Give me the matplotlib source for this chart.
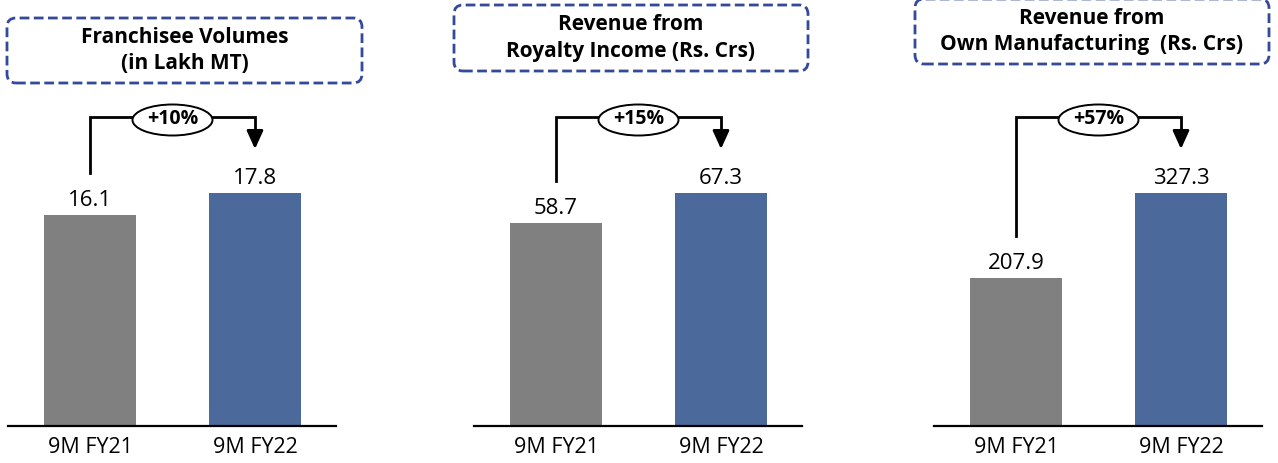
import matplotlib.pyplot as plt
from matplotlib.patches import Ellipse, FancyBboxPatch
from matplotlib.transforms import Affine2D

plt.rcParams["font.family"] = ["Open Sans", "DejaVu Sans"]

periods = ["9M FY21", "9M FY22"]
titles = [
    "Franchisee Volumes\n(in Lakh MT)",
    "Revenue from\nRoyalty Income (Rs. Crs)",
    "Revenue from\nOwn Manufacturing  (Rs. Crs)",
]
volumes = [16.1, 17.8]
royalty = [58.7, 67.3]
manufacturing = [207.9, 327.3]
growth = ["+10%", "+15%", "+57%"]

bar_colors = ["#808080", "#4B6A9B"]
box_color = "#34499A"

W, H = 1278, 463
fig = plt.figure(figsize=(W / 100, H / 100), dpi=100)
# pixel coordinates, origin bottom-left
px = Affine2D().scale(1 / W, 1 / H) + fig.transFigure

# pixel layout of each panel: axes left edge, title box (x0, y0 top, x1, y1 bottom)
axes_left = [8, 474, 934]
boxes = [(7, 18, 362, 83), (454, 5, 808, 71), (915, -1, 1269, 64)]
base_y = 426      # baseline, px from top
top_px = 233      # height of the tallest bar in px
ax_h = 300        # axes height in px
ax_w = 328

for i, vals in enumerate([volumes, royalty, manufacturing]):
    ax = fig.add_axes([axes_left[i] / W, (H - base_y) / H, ax_w / W, ax_h / H])
    vmax = max(vals)
    unit = vmax / top_px  # data units per pixel
    ax.bar([0, 1], vals, width=0.557, color=bar_colors)
    ax.set_xlim(-0.497, 1.491)
    ax.set_ylim(0, ax_h * unit)
    for s in ["top", "right", "left"]:
        ax.spines[s].set_visible(False)
    ax.spines["bottom"].set_linewidth(1.6)
    ax.set_yticks([])
    ax.set_xticks([0, 1])
    ax.set_xticklabels(periods, fontsize=15.5)
    ax.tick_params(axis="x", length=0, pad=8)

    for x, v in zip([0, 1], vals):
        ax.annotate(f"{v:.1f}", (x, v), xytext=(0, 3), textcoords="offset points",
                    ha="center", va="bottom", fontsize=16)

    # growth connector
    y_top = (base_y - 117) * unit
    y_tip = (base_y - 149) * unit
    y_start = vals[0] + 42 * unit
    ax.plot([0, 0, 1, 1], [y_start, y_top, y_top, y_tip + 14 * unit],
            color="black", lw=2, clip_on=False, solid_joinstyle="miter")
    ax.annotate("", xy=(1, y_tip), xytext=(1, y_tip + 16 * unit),
                arrowprops=dict(arrowstyle="-|>,head_width=0.5,head_length=1.1",
                                color="black", lw=2, shrinkA=0, shrinkB=0),
                annotation_clip=False)
    ell = Ellipse((0.5, y_top - 3 * unit), width=80 / 165, height=31 * unit,
                  facecolor="white", edgecolor="black", lw=1.4,
                  clip_on=False, zorder=4)
    ax.add_patch(ell)
    ax.text(0.5, y_top - 2 * unit, growth[i], ha="center", va="center",
            fontsize=14, fontweight="bold", zorder=5, clip_on=False)

    # dashed title box
    x0, y0, x1, y1 = boxes[i]
    box = FancyBboxPatch((x0, H - y1), x1 - x0, y1 - y0,
                         boxstyle="round,pad=0,rounding_size=9",
                         transform=px, facecolor="white",
                         edgecolor=box_color, lw=2, linestyle=(0, (3.5, 1.6)))
    fig.add_artist(box)
    fig.text((x0 + x1) / 2 / W, (H - (y0 + y1) / 2) / H, titles[i],
             ha="center", va="center", fontsize=15, fontweight="bold",
             linespacing=1.35)

fig.savefig("out.png", dpi=100)
